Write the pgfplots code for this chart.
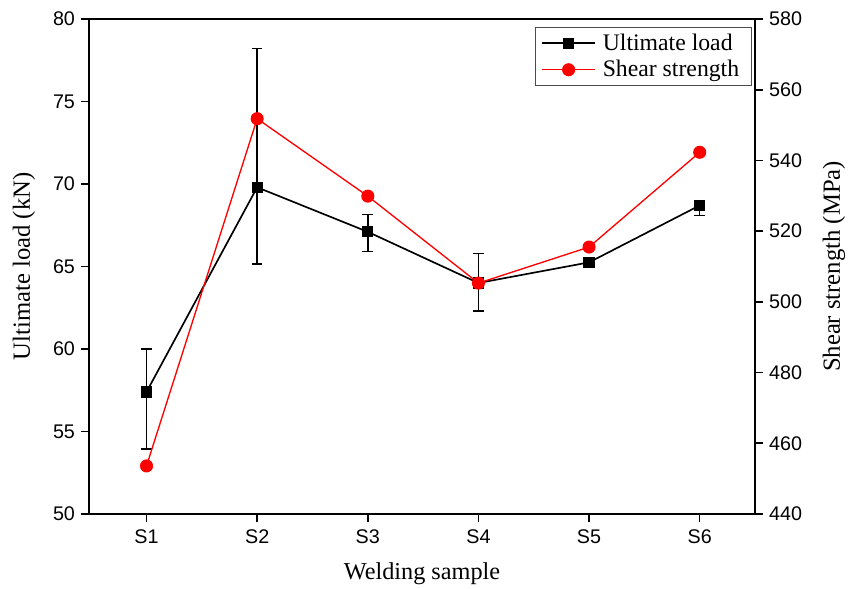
\documentclass[border=0pt]{standalone}
\usepackage{fontspec}
\setmainfont{Liberation Serif}
\newfontfamily\sansf{Liberation Sans}
\usepackage{pgfplots}
\pgfplotsset{compat=1.18}
\begin{document}
\begin{tikzpicture}
\pgfplotsset{
  every axis/.append style={
    scale only axis, width=499.5pt, height=371.25pt,
    xmin=-0.52, xmax=5.5,
    axis line style={line width=1.4pt},
    tick style={line width=1.2pt, black},
    major tick length=6pt,
    tick align=outside,
    /pgf/number format/assume math mode=true,
    tick label style={font=\sansf\fontsize{14.8}{16}\selectfont},
  }
}
\begin{axis}[name=ax,
  axis y line*=left, axis x line*=bottom,
  ymin=50, ymax=80, ytick={50,55,...,80},
  xtick={0,1,2,3,4,5}, xticklabels={S1,S2,S3,S4,S5,S6},
  xlabel={Welding sample}, ylabel={Ultimate load (kN)},
  xlabel style={at={(axis description cs:0.5,-0.1333)}, anchor=base, font=\fontsize{18.2}{20}\selectfont},
  ylabel style={at={(axis description cs:-0.0976,0.5)}, anchor=center, font=\fontsize{18.5}{21}\selectfont},
  yticklabel style={xshift=-1pt},
  xticklabel style={yshift=-2pt},
]
\addplot[black, line width=1.25pt, mark=square*, mark size=3.6pt,
  error bars/.cd, y dir=both, y explicit,
  error bar style={line width=1.2pt},
  error mark options={rotate=90, mark size=4pt, line width=1.2pt}]
coordinates {
 (0,57.4) += (0,2.6) -= (0,3.45)
 (1,69.8) += (0,8.4) -= (0,4.65)
 (2,67.1) += (0,1.05) -= (0,1.2)
 (3,64.0) += (0,1.8) -= (0,1.7)
 (4,65.25) += (0,0.3) -= (0,0.3)
 (5,68.7) += (0,0.3) -= (0,0.6)
};
\draw[line width=1.4pt] (rel axis cs:0,1) -- (rel axis cs:1,1);
\end{axis}
\begin{axis}[
  axis y line*=right, axis x line=none,
  ymin=440, ymax=580, ytick={440,460,...,580},
  ylabel={Shear strength (MPa)},
  ylabel style={at={(axis description cs:1.1186,0.5)}, anchor=center, font=\fontsize{18.5}{21}\selectfont},
  yticklabel style={xshift=1pt},
  legend style={at={(rel axis cs:0.995,0.984)}, anchor=north east,
    font=\fontsize{17.8}{20}\selectfont, draw=gray!60!black, line width=0.7pt,
    row sep=2pt, inner xsep=4pt, inner ysep=3pt,
    nodes={inner xsep=5pt}},
  legend cell align=left,
  legend image code/.code={\draw[mark repeat=2,mark phase=2] plot coordinates {(0pt,0pt)(20pt,0pt)(40pt,0pt)};},
]
\addlegendimage{black, line width=1.25pt, mark=square*, mark size=3.6pt}
\addlegendentry{Ultimate load}
\addplot[red, line width=1pt, mark=*, mark size=4.4pt]
coordinates {(0,453.6) (1,551.8) (2,529.9) (3,505.3) (4,515.5) (5,542.3)};
\addlegendentry{Shear strength}
\end{axis}
\pgfresetboundingbox
\path[use as bounding box] ([xshift=-66.75pt,yshift=-55.5pt]ax.south west) rectangle ([xshift=76.5pt,yshift=14.25pt]ax.north east);
\end{tikzpicture}
\end{document}
